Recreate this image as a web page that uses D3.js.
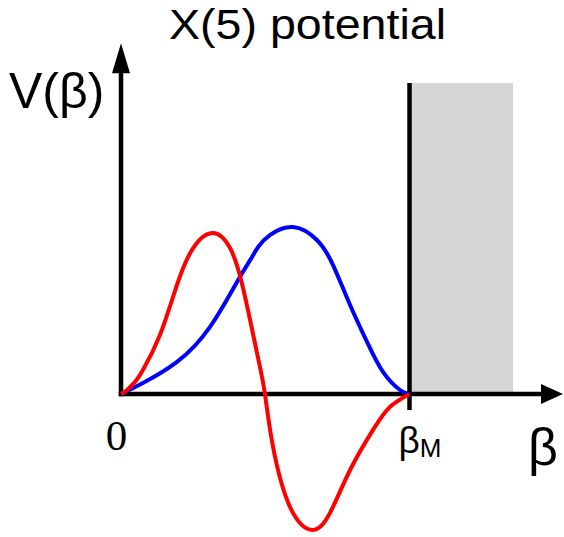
<!DOCTYPE html>
<html>
<head>
<meta charset="utf-8">
<script src="https://cdn.jsdelivr.net/npm/d3@7"></script>
<style>
  html, body { margin: 0; padding: 0; background: #ffffff; }
  svg { display: block; }
  text { font-family: "Liberation Sans", Arial, Helvetica, sans-serif; fill: #000; }
</style>
</head>
<body>
<div id="chart"></div>
<script>
// β in units of the well edge β_M; amplitudes in units of the ground-state peak
const betaGround = [0, 0.076, 0.194, 0.308, 0.402, 0.447, 0.475, 0.516, 0.596, 0.679, 0.735, 0.794, 0.853, 0.908, 0.967, 1];
const psiGround  = [0, 0.066, 0.192, 0.401, 0.671, 0.800, 0.880, 0.952, 1.000, 0.922, 0.772, 0.533, 0.311, 0.132, 0.024, 0];

const betaExcited = [0, 0.021, 0.049, 0.076, 0.135, 0.194, 0.250, 0.319, 0.378, 0.423, 0.475, 0.499, 0.527, 0.586, 0.662, 0.724, 0.794, 0.873, 0.932, 1];
const psiExcited  = [0, 0.024, 0.074, 0.144, 0.353, 0.653, 0.874, 0.964, 0.874, 0.635, 0.216, 0, -0.317, -0.677, -0.814, -0.713, -0.455, -0.216, -0.078, 0];

const tickValues = [0, 1];
const tickLabels = ["0", "β"];
const tickSubs   = ["", "M"];

const wallTop = 1.862;      // height of the infinite wall drawn at β_M
const shadeEnd = 1.359;     // extent of the forbidden region
const xAxisEnd = 1.532;
const yAxisEnd = 2.10;

const W = 564, H = 537;
const svg = d3.select("#chart").append("svg").attr("width", W).attr("height", H);

const x = d3.scaleLinear().domain([0, 1]).range([121, 409.5]);
const y = d3.scaleLinear().domain([0, 1]).range([394, 227]);

// forbidden region beyond the wall
svg.append("rect")
  .attr("x", x(1) + 1.5).attr("y", y(wallTop))
  .attr("width", x(shadeEnd) - x(1) - 1.5).attr("height", y(0) - y(wallTop))
  .attr("fill", "#d6d6d6");

// axes with arrowheads
const axisW = 4.5;
svg.append("line")
  .attr("x1", x(0) - 2.25).attr("y1", y(0))
  .attr("x2", x(xAxisEnd) - 18).attr("y2", y(0))
  .attr("stroke", "#000").attr("stroke-width", axisW);
svg.append("path")
  .attr("d", `M${x(xAxisEnd)},${y(0)} L${x(xAxisEnd) - 22},${y(0) - 10} L${x(xAxisEnd) - 22},${y(0) + 10} Z`)
  .attr("fill", "#000");

svg.append("line")
  .attr("x1", x(0)).attr("y1", y(0) + 2.25)
  .attr("x2", x(0)).attr("y2", y(yAxisEnd) + 24)
  .attr("stroke", "#000").attr("stroke-width", axisW);
svg.append("path")
  .attr("d", `M${x(0)},${y(yAxisEnd)} L${x(0) - 9},${y(yAxisEnd) + 30} L${x(0) + 9},${y(yAxisEnd) + 30} Z`)
  .attr("fill", "#000");

// wall at β_M, continuing below the axis as a tick
svg.append("line")
  .attr("x1", x(1)).attr("y1", y(wallTop))
  .attr("x2", x(1)).attr("y2", y(0) + 16)
  .attr("stroke", "#000").attr("stroke-width", axisW);

// wavefunctions
const line = d3.line()
  .x(d => x(d[0])).y(d => y(d[1]))
  .curve(d3.curveNatural);

svg.append("path")
  .datum(d3.zip(betaGround, psiGround))
  .attr("d", line)
  .attr("fill", "none").attr("stroke", "#0000ff").attr("stroke-width", 4);

svg.append("path")
  .datum(d3.zip(betaExcited, psiExcited))
  .attr("d", line)
  .attr("fill", "none").attr("stroke", "#ff0000").attr("stroke-width", 4);

// tick labels
svg.append("text")
  .attr("x", x(tickValues[0]) - 4.5).attr("y", 450)
  .attr("text-anchor", "middle")
  .style("font-family", "'Liberation Serif', 'Times New Roman', serif")
  .style("font-size", "43px")
  .text(tickLabels[0]);

const bm = svg.append("text")
  .attr("x", x(tickValues[1]) - 11).attr("y", 453)
  .style("font-size", "37px");
bm.append("tspan").text(tickLabels[1]);
bm.append("tspan").attr("dy", 4).style("font-size", "26px").text(tickSubs[1]);

// axis titles
svg.append("text")
  .attr("x", 528).attr("y", 465)
  .style("font-size", "52px")
  .text("β");

svg.append("text")
  .attr("x", 9).attr("y", 108)
  .style("font-size", "50px")
  .text("V(β)");

// chart title
svg.append("text")
  .attr("x", 169).attr("y", 39)
  .attr("textLength", 277).attr("lengthAdjust", "spacingAndGlyphs")
  .style("font-size", "42.5px")
  .text("X(5) potential");
</script>
</body>
</html>
